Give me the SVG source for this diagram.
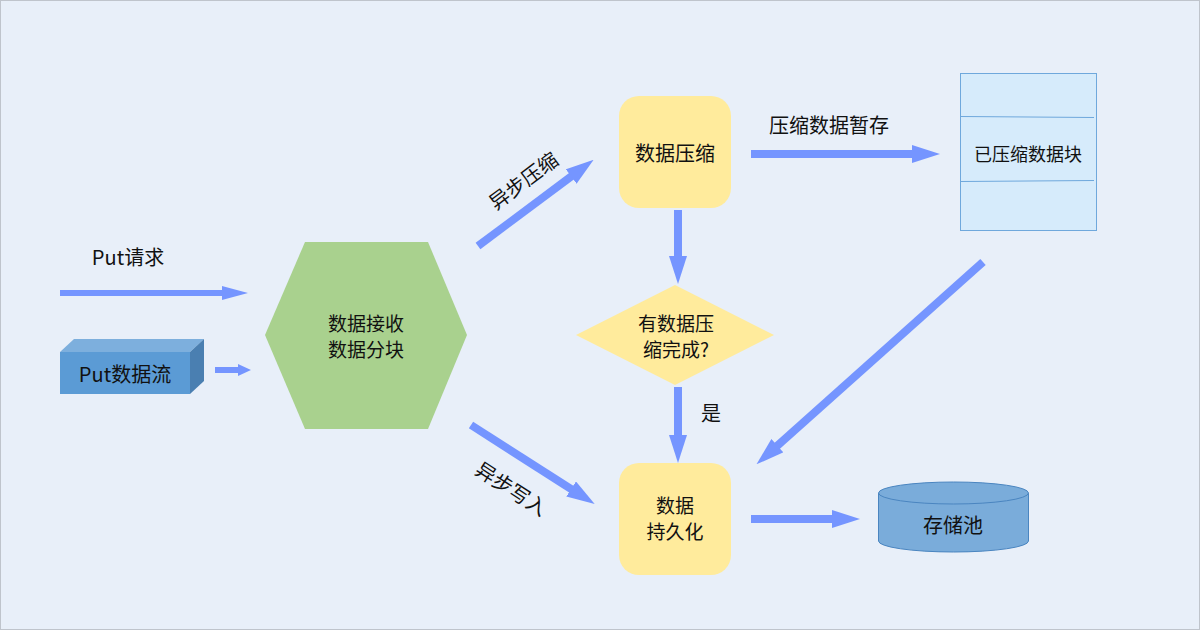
<svg xmlns="http://www.w3.org/2000/svg" width="1200" height="630" viewBox="0 0 1200 630">
<style>
text{font-family:"Noto Sans CJK SC","Liberation Sans",sans-serif;font-size:20px;fill:#111;text-anchor:middle;dominant-baseline:central}
.m{font-size:19px}
.a{stroke:#7595FF;stroke-width:8;fill:none}
.a6{stroke:#7595FF;stroke-width:6;fill:none}
</style>
<defs>
<marker id="h" markerUnits="userSpaceOnUse" markerWidth="28" markerHeight="18" refX="2" refY="9" orient="auto"><path d="M0,0 L28,9 L0,18 z" fill="#7595FF"/></marker>
<marker id="h6" markerUnits="userSpaceOnUse" markerWidth="26" markerHeight="14" refX="2" refY="7" orient="auto"><path d="M0,0 L26,7 L0,14 z" fill="#7595FF"/></marker>
</defs>
<rect x="0.5" y="0.5" width="1199" height="629" fill="#E8EFF9" stroke="#BFC4CC"/>
<g id="connectors">
<line class="a6" x1="60" y1="293" x2="224" y2="293" marker-end="url(#h6)"/>
<path d="M215,367 L238,367 L238,364 L251,370 L238,376 L238,373 L215,373 z" fill="#7595FF"/>
<line class="a" x1="478" y1="246" x2="572.8" y2="175.3" marker-end="url(#h)"/>
<line class="a" x1="751" y1="154" x2="914" y2="154" marker-end="url(#h)"/>
<line class="a" x1="678" y1="210" x2="678" y2="258" marker-end="url(#h)"/>
<line class="a" x1="678" y1="387" x2="678" y2="437" marker-end="url(#h)"/>
<line class="a" x1="471" y1="425" x2="572.8" y2="490.1" marker-end="url(#h)"/>
<line class="a" x1="983" y1="262" x2="775.9" y2="447" marker-end="url(#h)"/>
<line class="a" x1="751" y1="519" x2="834" y2="519" marker-end="url(#h)"/>
<text x="128" y="256">Put请求</text>
<text transform="translate(523,180) rotate(-36.7)">异步压缩</text>
<text x="829" y="124">压缩数据暂存</text>
<text x="711" y="412">是</text>
<text transform="translate(512,488) rotate(33)">异步写入</text>
</g>
<g id="putstream">
<polygon points="60,352 74,339 204,339 190,352" fill="#7DAFDD"/>
<polygon points="190,352 204,339 204,381 190,394" fill="#4A7FB1"/>
<rect x="60" y="352" width="130" height="42" fill="#5B9BD5"/>
<text x="125" y="373">Put数据流</text>
</g>
<g id="receive">
<polygon points="265,335 305,242 428,242 467,335 428,429 305,429" fill="#A9D18E"/>
<text class="m" x="366" y="322">数据接收</text>
<text class="m" x="366" y="348">数据分块</text>
</g>
<g id="compress">
<rect x="619" y="96" width="112" height="112" rx="20" fill="#FFEB9C"/>
<text x="675" y="152">数据压缩</text>
</g>
<g id="blocks">
<rect x="960.5" y="73.5" width="136" height="157" fill="#D6EBFB" stroke="#6FA8DC"/>
<line x1="961" y1="116.5" x2="1094" y2="117.5" stroke="#6FA8DC"/>
<line x1="961" y1="181.5" x2="1094" y2="180.5" stroke="#6FA8DC"/>
<text x="1028" y="153" style="font-size:18px">已压缩数据块</text>
</g>
<g id="decision">
<polygon points="576,335 675,285 774,335 675,385" fill="#FFEB9C"/>
<text class="m" x="676" y="322">有数据压</text>
<text class="m" x="676" y="348">缩完成?</text>
</g>
<g id="persist">
<rect x="619" y="463" width="112" height="112" rx="20" fill="#FFEB9C"/>
<text class="m" x="675" y="504">数据</text>
<text class="m" x="675" y="530">持久化</text>
</g>
<g id="pool">
<path d="M878.5,493 L878.5,541 A75,11 0 0 0 1028.5,541 L1028.5,493" fill="#7AACDA" stroke="#4A85C0"/>
<ellipse cx="953.5" cy="493" rx="75" ry="11" fill="#7AACDA" stroke="#4A85C0"/>
<text x="953" y="524">存储池</text>
</g>
</svg>
